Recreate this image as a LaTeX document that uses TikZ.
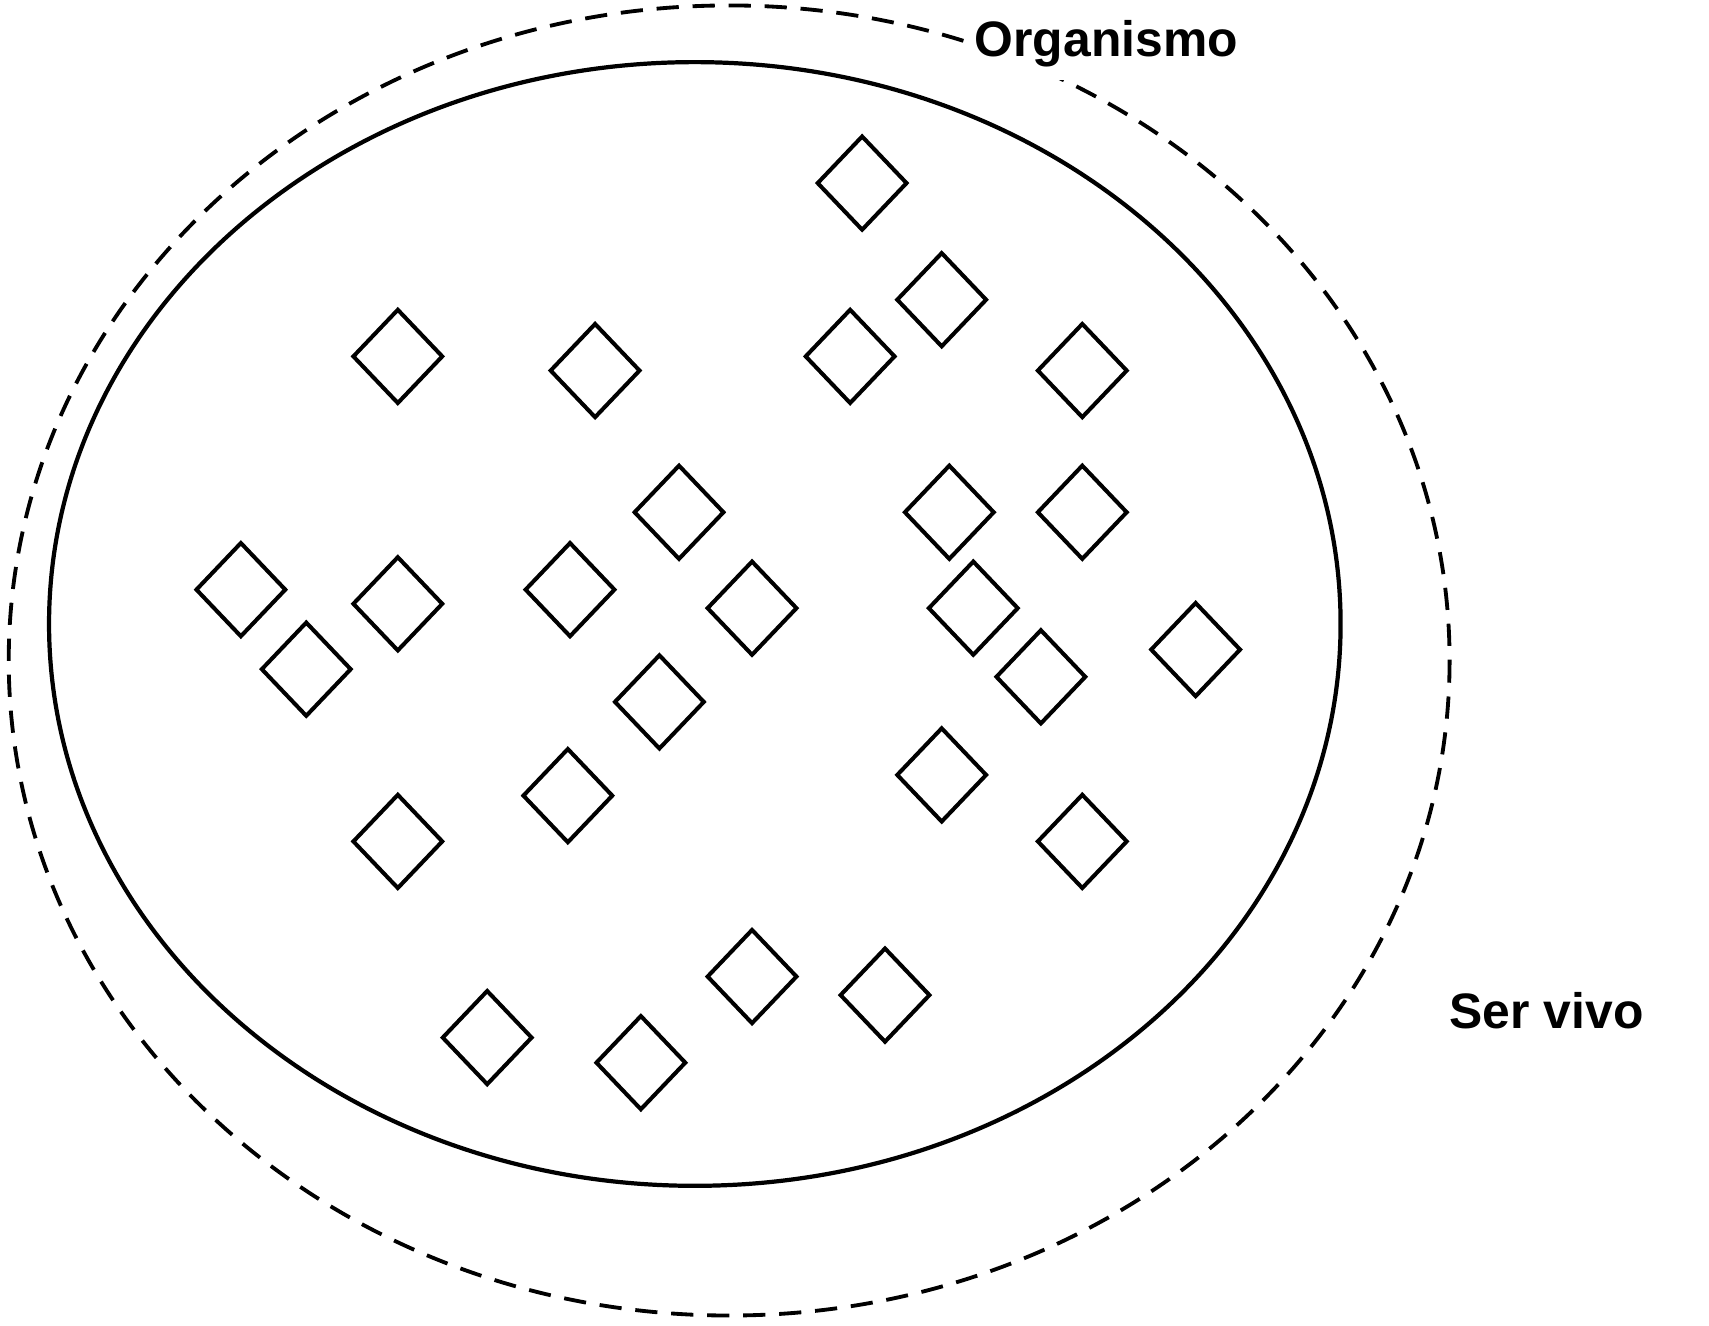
\documentclass[tikz,border=0pt]{standalone}
\usepackage{fontspec}
\setmainfont{Liberation Sans}
\usetikzlibrary{shapes.geometric}
\begin{document}
\begin{tikzpicture}[x=0.01cm,y=-0.01cm,
  cell/.style={draw,diamond,line width=1.05pt,inner sep=0pt,minimum width=0.83cm,minimum height=0.87cm},
  lbl/.style={font=\fontsize{13}{15}\selectfont\bfseries,fill=white,inner xsep=0.07cm,inner ysep=0.12cm},
  bound/.style={line width=1.1pt},
  outer/.style={line width=1.0pt,dash pattern=on 5.8pt off 3.6pt}]
\useasboundingbox (0,0) rectangle (1568,1216);
\draw[outer] (669,606) ellipse [x radius=661, y radius=601];
\draw[bound] (637.5,572.5) ellipse [x radius=592.5, y radius=515.5];
\node[lbl] (org) at (1015,40) {Organismo};
\node[lbl] (ser) at (1419,927) {Ser vivo};
\node[cell] (d1) at (791,168) {};
\node[cell] (d2) at (864,275) {};
\node[cell] (d3) at (780,327) {};
\node[cell] (d4) at (993,340) {};
\node[cell] (d5) at (365,327) {};
\node[cell] (d6) at (546,340) {};
\node[cell] (d7) at (623,470) {};
\node[cell] (d8) at (871,470) {};
\node[cell] (d9) at (993,470) {};
\node[cell] (d10) at (221,541) {};
\node[cell] (d11) at (365,554) {};
\node[cell] (d12) at (523,541) {};
\node[cell] (d13) at (690,558) {};
\node[cell] (d14) at (893,558) {};
\node[cell] (d15) at (281,614) {};
\node[cell] (d16) at (605,644) {};
\node[cell] (d17) at (955,621) {};
\node[cell] (d18) at (1097,596) {};
\node[cell] (d19) at (864,711) {};
\node[cell] (d20) at (521,730) {};
\node[cell] (d21) at (365,772) {};
\node[cell] (d22) at (993,772) {};
\node[cell] (d23) at (690,896) {};
\node[cell] (d24) at (812,913) {};
\node[cell] (d25) at (447,952) {};
\node[cell] (d26) at (588,975) {};
\end{tikzpicture}
\end{document}
